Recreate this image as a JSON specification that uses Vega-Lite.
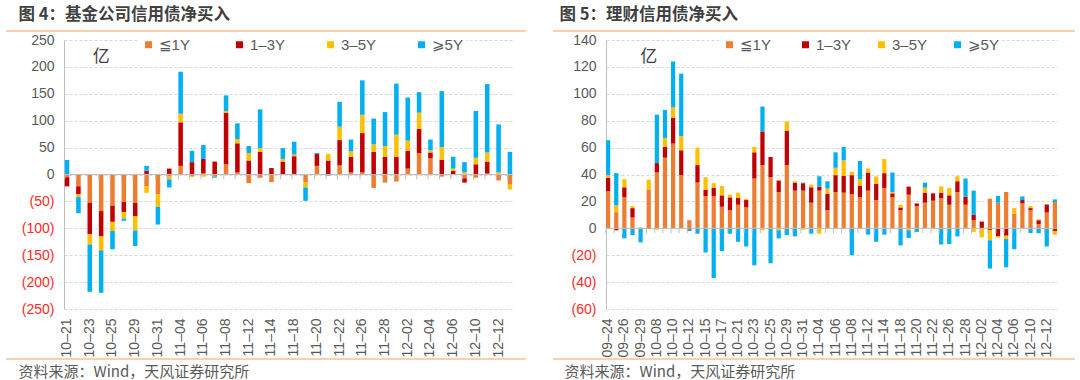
{
  "$schema": "https://vega.github.io/schema/vega-lite/v6.json",
  "background": "white",
  "padding": {"left": 5, "top": 7, "right": 3, "bottom": 0},
  "config": {
    "view": {"stroke": null},
    "font": "Liberation Sans",
    "axis": {"labelFont": "Liberation Sans"},
    "axisY": {"labelOverlap": false},
    "legend": {"labelFont": "Liberation Sans, DejaVu Sans, Noto Sans CJK SC"}
  },
  "datasets": {
    "fund": [
      {"d":"10–21","t1":-5,"t2":-17,"t3":0,"t4":27},
      {"d":"10–22","t1":-22,"t2":-15,"t3":-5,"t4":-30},
      {"d":"10–23","t1":-53,"t2":-58,"t3":-19,"t4":-88},
      {"d":"10–24","t1":-68,"t2":-47,"t3":-26,"t4":-79},
      {"d":"10–25","t1":-58,"t2":-30,"t3":-17,"t4":-34},
      {"d":"10–28","t1":-51,"t2":-19,"t3":-12,"t4":-4},
      {"d":"10–29","t1":-53,"t2":-25,"t3":-26,"t4":-29},
      {"d":"10–30","t1":-22,"t2":7,"t3":-12,"t4":9},
      {"d":"10–31","t1":-37,"t2":1,"t3":-23,"t4":-33},
      {"d":"11–01","t1":-4,"t2":11,"t3":-5,"t4":-15},
      {"d":"11–04","t1":16,"t2":81,"t3":16,"t4":78},
      {"d":"11–05","t1":-3,"t2":23,"t3":-2,"t4":21},
      {"d":"11–06","t1":2,"t2":27,"t3":-4,"t4":26},
      {"d":"11–07","t1":-4,"t2":24,"t3":0,"t4":-2},
      {"d":"11–08","t1":19,"t2":96,"t3":3,"t4":29},
      {"d":"11–11","t1":4,"t2":54,"t3":8,"t4":29},
      {"d":"11–12","t1":-16,"t2":26,"t3":14,"t4":13},
      {"d":"11–13","t1":-6,"t2":42,"t3":7,"t4":72},
      {"d":"11–14","t1":-14,"t2":12,"t3":0,"t4":0},
      {"d":"11–15","t1":-1,"t2":24,"t3":5,"t4":20},
      {"d":"11–18","t1":1,"t2":33,"t3":3,"t4":24},
      {"d":"11–19","t1":-14,"t2":0,"t3":-10,"t4":-25},
      {"d":"11–20","t1":16,"t2":22,"t3":0,"t4":2},
      {"d":"11–21","t1":0,"t2":26,"t3":12,"t4":-2},
      {"d":"11–22","t1":17,"t2":47,"t3":25,"t4":46},
      {"d":"11–25","t1":4,"t2":29,"t3":10,"t4":22},
      {"d":"11–26","t1":4,"t2":73,"t3":34,"t4":64},
      {"d":"11–27","t1":-25,"t2":42,"t3":14,"t4":48},
      {"d":"11–28","t1":-15,"t2":33,"t3":20,"t4":63},
      {"d":"11–29","t1":-13,"t2":33,"t3":41,"t4":95},
      {"d":"12–02","t1":11,"t2":33,"t3":19,"t4":80},
      {"d":"12–03","t1":40,"t2":45,"t3":30,"t4":38},
      {"d":"12–04","t1":30,"t2":11,"t3":4,"t4":20},
      {"d":"12–05","t1":-4,"t2":27,"t3":24,"t4":104},
      {"d":"12–06","t1":0,"t2":7,"t3":4,"t4":22},
      {"d":"12–09","t1":-7,"t2":-8,"t3":4,"t4":19},
      {"d":"12–10","t1":-6,"t2":19,"t3":12,"t4":87},
      {"d":"12–11","t1":2,"t2":22,"t3":17,"t4":127},
      {"d":"12–12","t1":-11,"t2":0,"t3":4,"t4":89},
      {"d":"12–13","t1":-19,"t2":0,"t3":-9,"t4":42}
    ],
    "wm": [
      {"d":"09–24","t1":27.5,"t2":10,"t3":2,"t4":26},
      {"d":"09–25","t1":12,"t2":-1.5,"t3":5,"t4":24},
      {"d":"09–26","t1":23,"t2":7.5,"t3":6,"t4":-7.5},
      {"d":"09–27","t1":8,"t2":7,"t3":1.5,"t4":-5},
      {"d":"09–29","t1":0.5,"t2":0,"t3":0,"t4":-10.5},
      {"d":"09–30","t1":28.5,"t2":-0.5,"t3":7.7,"t4":0},
      {"d":"10–08","t1":41.5,"t2":7,"t3":-1,"t4":36},
      {"d":"10–09","t1":52.5,"t2":8,"t3":6.5,"t4":21},
      {"d":"10–10","t1":63,"t2":19,"t3":8,"t4":34},
      {"d":"10–11","t1":39.5,"t2":18.5,"t3":10.5,"t4":46.5},
      {"d":"10–12","t1":6,"t2":-1,"t3":0,"t4":-1},
      {"d":"10–14","t1":34,"t2":13,"t3":13,"t4":-4},
      {"d":"10–15","t1":24,"t2":4.5,"t3":9.5,"t4":-18},
      {"d":"10–16","t1":24,"t2":6,"t3":3.5,"t4":-37},
      {"d":"10–17","t1":16,"t2":8.5,"t3":7,"t4":-17},
      {"d":"10–18","t1":13.5,"t2":9.5,"t3":2,"t4":-4},
      {"d":"10–21","t1":17.5,"t2":5,"t3":4,"t4":-10},
      {"d":"10–22","t1":15.5,"t2":5.5,"t3":1,"t4":-13.5},
      {"d":"10–23","t1":37,"t2":19.5,"t3":4,"t4":-27.5},
      {"d":"10–24","t1":47,"t2":25,"t3":-1.5,"t4":18.5},
      {"d":"10–25","t1":38,"t2":15,"t3":0,"t4":-26},
      {"d":"10–28","t1":27,"t2":8.5,"t3":-1.5,"t4":-6},
      {"d":"10–29","t1":47,"t2":25.5,"t3":7,"t4":-5},
      {"d":"10–30","t1":28,"t2":6,"t3":1,"t4":-6},
      {"d":"10–31","t1":28,"t2":5.5,"t3":-1,"t4":0.5},
      {"d":"11–01","t1":19,"t2":11.5,"t3":2,"t4":-4},
      {"d":"11–04","t1":28,"t2":3,"t3":-4,"t4":7.7},
      {"d":"11–05","t1":13.5,"t2":12,"t3":4,"t4":5.5},
      {"d":"11–06","t1":27,"t2":12.5,"t3":5.5,"t4":11.5},
      {"d":"11–07","t1":26.5,"t2":12.5,"t3":11.5,"t4":10},
      {"d":"11–08","t1":25.5,"t2":14,"t3":2.5,"t4":-20},
      {"d":"11–11","t1":23,"t2":8.5,"t3":5,"t4":13.5},
      {"d":"11–12","t1":28,"t2":13.5,"t3":3,"t4":-4.7},
      {"d":"11–13","t1":21,"t2":12,"t3":5.5,"t4":-10},
      {"d":"11–14","t1":30,"t2":11,"t3":10.5,"t4":-4.7},
      {"d":"11–15","t1":23,"t2":3,"t3":1,"t4":14.5},
      {"d":"11–18","t1":13.5,"t2":2,"t3":2,"t4":-12.7},
      {"d":"11–19","t1":25,"t2":6,"t3":-1.5,"t4":-5.7},
      {"d":"11–20","t1":16.5,"t2":2,"t3":0,"t4":-2.7},
      {"d":"11–21","t1":19,"t2":7.5,"t3":3.7,"t4":3.7},
      {"d":"11–22","t1":20.5,"t2":5.5,"t3":0,"t4":0},
      {"d":"11–25","t1":22.5,"t2":4,"t3":4.7,"t4":-12},
      {"d":"11–26","t1":17.5,"t2":7,"t3":5.5,"t4":-11.7},
      {"d":"11–27","t1":27,"t2":8,"t3":3.7,"t4":-6},
      {"d":"11–28","t1":17.5,"t2":6,"t3":0,"t4":13.5},
      {"d":"11–29","t1":6,"t2":4,"t3":-2.7,"t4":18},
      {"d":"12–02","t1":0,"t2":5,"t3":-6.7,"t4":0},
      {"d":"12–03","t1":22,"t2":-1.2,"t3":-7.7,"t4":-21},
      {"d":"12–04","t1":19,"t2":-6,"t3":-1,"t4":5},
      {"d":"12–05","t1":27,"t2":-5.5,"t3":-2.5,"t4":-21},
      {"d":"12–06","t1":11,"t2":0,"t3":4,"t4":-15.6},
      {"d":"12–09","t1":18.5,"t2":2.5,"t3":0,"t4":2.7},
      {"d":"12–10","t1":13.5,"t2":1.5,"t3":1.5,"t4":-3.5},
      {"d":"12–11","t1":3,"t2":3,"t3":0.7,"t4":-3.7},
      {"d":"12–12","t1":11.7,"t2":6,"t3":0,"t4":-13.5},
      {"d":"12–13","t1":19.5,"t2":-2,"t3":-2.7,"t4":2}
    ]
  },
  "spacing": 25,
  "resolve": {"scale": {"color": "independent"}, "legend": {"color": "independent"}},
  "hconcat": [
    {
      "spacing": 1,
      "vconcat": [
        {
          "width": 462, "height": 0.01,
          "title": {"text": "图 4：基金公司信用债净买入", "anchor": "start", "dx": 13, "offset": 7, "fontSize": 16.5, "font": "Noto Sans CJK SC", "fontWeight": "bold", "color": "#404040"},
          "data": {"values": [{}]},
          "mark": {"type": "rule", "color": "#F4A15D", "strokeWidth": 1},
          "encoding": {
            "x": {"datum": 0, "type": "quantitative", "scale": {"domain": [0, 1], "range": [-58, 462]}, "axis": null},
            "x2": {"datum": 1}
          }
        },
        {
          "width": 449, "height": 269,
          "layer": [
            {
              "data": {"name": "fund"},
              "transform": [{"fold": ["t1", "t2", "t3", "t4"], "as": ["s", "v"]}],
              "mark": {"type": "bar"},
              "encoding": {
                "x": {"field": "d", "type": "nominal", "scale": {"paddingInner": 0.6, "paddingOuter": 0.07},
                  "axis": {"title": null, "values": ["10–21","10–23","10–25","10–29","10–31","11–04","11–06","11–08","11–12","11–14","11–18","11–20","11–22","11–26","11–28","12–02","12–04","12–06","12–10","12–12"],
                    "labelAngle": 270, "labelFontSize": 14, "labelColor": "#595959", "labelPadding": 9, "domain": false, "ticks": false, "grid": false, "labelOverlap": false}},
                "y": {"field": "v", "type": "quantitative", "stack": "zero", "scale": {"domain": [-250, 250], "nice": false},
                  "axis": {"title": null, "values": [-250,-200,-150,-100,-50,0,50,100,150,200,250], "tickCount": 12, "ticks": false, "domain": true, "domainColor": "#BFBFBF",
                    "labelPadding": 10, "labelFontSize": 14, "labelOverlap": false, "labelColor": {"condition": {"test": "datum.value < 0", "value": "#FF2A2A"}, "value": "#595959"},
                    "labelExpr": "datum.value < 0 ? '(' + format(-datum.value, 'd') + ')' : format(datum.value, 'd')",
                    "grid": true, "gridColor": "#D9D9D9", "gridDash": [3, 2], "minExtent": 58}},
                "color": {"field": "s", "type": "nominal",
                  "scale": {"domain": ["t1", "t2", "t3", "t4"], "range": ["#ED7D31", "#C00000", "#FFC000", "#00B0F0"]},
                  "legend": {"title": null, "orient": "none", "legendX": 74, "legendY": 3, "direction": "horizontal", "columns": 4, "gridAlign": "all", "columnPadding": 37,
                    "symbolType": "square", "symbolSize": 49, "symbolStrokeWidth": 0, "labelFontSize": 15, "labelColor": "#595959", "labelOffset": 3,
                    "labelExpr": "datum.label == 't1' ? '≦1Y' : datum.label == 't2' ? '1–3Y' : datum.label == 't3' ? '3–5Y' : '⩾5Y'",
                    "fillColor": "white", "padding": 3}},
                "order": {"field": "s", "sort": "ascending"}
              }
            },
            {
              "data": {"values": [{}]},
              "mark": {"type": "rule", "color": "#BFBFBF"},
              "encoding": {"y": {"datum": 0}}
            },
            {
              "data": {"name": "fund"},
              "mark": {"type": "rule", "color": "#BFBFBF"},
              "encoding": {"x": {"field": "d", "type": "nominal", "bandPosition": 0}, "y": {"datum": 0}, "y2": {"datum": -9}}
            },
            {
              "data": {"values": [{}]},
              "mark": {"type": "text", "fontSize": 17, "font": "Noto Sans CJK SC", "color": "#404040"},
              "encoding": {"x": {"datum": "10–24"}, "y": {"datum": 219}, "text": {"value": "亿"}}
            }
          ]
        },
        {
          "width": 462, "height": 0.01,
          "title": {"text": "资料来源：Wind，天风证券研究所", "orient": "bottom", "anchor": "start", "dx": 13, "offset": 5, "fontSize": 15, "font": "Noto Sans CJK SC", "fontWeight": "normal", "color": "#595959"},
          "data": {"values": [{}]},
          "mark": {"type": "rule", "color": "#F4A15D", "strokeWidth": 1},
          "encoding": {
            "x": {"datum": 0, "type": "quantitative", "scale": {"domain": [0, 1], "range": [-58, 462]}, "axis": null},
            "x2": {"datum": 1}
          }
        }
      ]
    },
    {
      "spacing": 1,
      "vconcat": [
        {
          "width": 469, "height": 0.01,
          "title": {"text": "图 5：理财信用债净买入", "anchor": "start", "dx": 7, "offset": 7, "fontSize": 16.5, "font": "Noto Sans CJK SC", "fontWeight": "bold", "color": "#404040"},
          "data": {"values": [{}]},
          "mark": {"type": "rule", "color": "#F4A15D", "strokeWidth": 1},
          "encoding": {
            "x": {"datum": 0, "type": "quantitative", "scale": {"domain": [0, 1], "range": [-53, 469]}, "axis": null},
            "x2": {"datum": 1}
          }
        },
        {
          "width": 451, "height": 269,
          "layer": [
            {
              "data": {"name": "wm"},
              "transform": [{"fold": ["t1", "t2", "t3", "t4"], "as": ["s", "v"]}],
              "mark": {"type": "bar"},
              "encoding": {
                "x": {"field": "d", "type": "nominal", "scale": {"paddingInner": 0.48, "paddingOuter": 0},
                  "axis": {"title": null, "values": ["09–24","09–26","09–29","10–08","10–10","10–12","10–15","10–17","10–21","10–23","10–25","10–29","10–31","11–04","11–06","11–08","11–12","11–14","11–18","11–20","11–22","11–26","11–28","12–02","12–04","12–06","12–10","12–12"],
                    "labelAngle": 270, "labelFontSize": 14, "labelColor": "#595959", "labelPadding": 9, "domain": false, "ticks": false, "grid": false, "labelOverlap": false}},
                "y": {"field": "v", "type": "quantitative", "stack": "zero", "scale": {"domain": [-60, 140], "nice": false},
                  "axis": {"title": null, "values": [-60,-40,-20,0,20,40,60,80,100,120,140], "tickCount": 12, "ticks": false, "domain": true, "domainColor": "#BFBFBF",
                    "labelPadding": 10, "labelFontSize": 14, "labelOverlap": false, "labelColor": {"condition": {"test": "datum.value < 0", "value": "#FF2A2A"}, "value": "#595959"},
                    "labelExpr": "datum.value < 0 ? '(' + format(-datum.value, 'd') + ')' : format(datum.value, 'd')",
                    "grid": true, "gridColor": "#D9D9D9", "gridDash": [3, 2], "minExtent": 53}},
                "color": {"field": "s", "type": "nominal",
                  "scale": {"domain": ["t1", "t2", "t3", "t4"], "range": ["#ED7D31", "#C00000", "#FFC000", "#00B0F0"]},
                  "legend": {"title": null, "orient": "none", "legendX": 113, "legendY": 3, "direction": "horizontal", "columns": 4, "gridAlign": "all", "columnPadding": 22,
                    "symbolType": "square", "symbolSize": 49, "symbolStrokeWidth": 0, "labelFontSize": 15, "labelColor": "#595959", "labelOffset": 3,
                    "labelExpr": "datum.label == 't1' ? '≦1Y' : datum.label == 't2' ? '1–3Y' : datum.label == 't3' ? '3–5Y' : '⩾5Y'",
                    "fillColor": "white", "padding": 3}},
                "order": {"field": "s", "sort": "ascending"}
              }
            },
            {
              "data": {"values": [{}]},
              "mark": {"type": "rule", "color": "#BFBFBF"},
              "encoding": {"y": {"datum": 0}}
            },
            {
              "data": {"name": "wm"},
              "mark": {"type": "rule", "color": "#BFBFBF"},
              "encoding": {"x": {"field": "d", "type": "nominal", "bandPosition": 0}, "y": {"datum": 0}, "y2": {"datum": -3.7}}
            },
            {
              "data": {"values": [{}]},
              "mark": {"type": "text", "fontSize": 17, "font": "Noto Sans CJK SC", "color": "#404040"},
              "encoding": {"x": {"datum": "09–30"}, "y": {"datum": 127.5}, "text": {"value": "亿"}}
            }
          ]
        },
        {
          "width": 469, "height": 0.01,
          "title": {"text": "资料来源：Wind，天风证券研究所", "orient": "bottom", "anchor": "start", "dx": 12, "offset": 5, "fontSize": 15, "font": "Noto Sans CJK SC", "fontWeight": "normal", "color": "#595959"},
          "data": {"values": [{}]},
          "mark": {"type": "rule", "color": "#F4A15D", "strokeWidth": 1},
          "encoding": {
            "x": {"datum": 0, "type": "quantitative", "scale": {"domain": [0, 1], "range": [-53, 469]}, "axis": null},
            "x2": {"datum": 1}
          }
        }
      ]
    }
  ]
}
